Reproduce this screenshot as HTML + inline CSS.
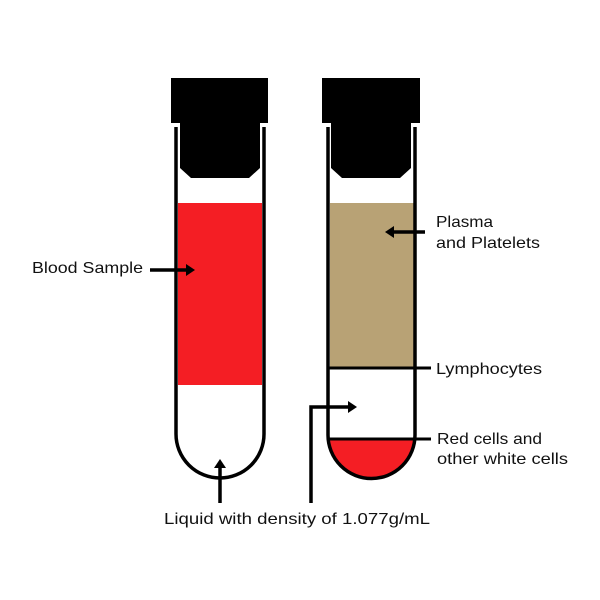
<!DOCTYPE html>
<html><head><style>body{margin:0;background:#fff}svg{display:block}</style></head><body>
<svg width="600" height="600" viewBox="0 0 600 600" xmlns="http://www.w3.org/2000/svg" font-family="Liberation Sans, sans-serif" font-size="16">
<rect width="600" height="600" fill="#fff"/>
<!-- left tube -->
<rect x="178" y="203" width="84" height="182" fill="#f41e24"/>
<path d="M176 127 V434 A44 44 0 0 0 264 434 V127" fill="none" stroke="#000" stroke-width="3.5"/>
<path d="M171 78 H268 V123 H260 V168 L249 178 H191 L180 168 V123 H171 Z" fill="#000"/>
<!-- right tube -->
<rect x="330" y="203" width="84" height="165" fill="#b8a275"/>
<path d="M330 439 H414 A42 40 0 0 1 330 439 Z" fill="#f41e24"/>
<path d="M328 127 V435 A43.5 43.5 0 0 0 415 435 V127" fill="none" stroke="#000" stroke-width="3.5"/>
<path d="M322 78 H420 V123 H411 V168 L400 178 H342 L331 168 V123 H322 Z" fill="#000"/>
<line x1="328" y1="368" x2="431" y2="368" stroke="#000" stroke-width="3"/>
<line x1="328" y1="439" x2="431" y2="439" stroke="#000" stroke-width="3"/>
<!-- arrows -->
<g stroke="#000" stroke-width="3.5" fill="none">
<line x1="150" y1="270" x2="188" y2="270"/>
<line x1="220" y1="503" x2="220" y2="466"/>
<path d="M311 503 V407 H350"/>
<line x1="425" y1="232" x2="392" y2="232"/>
</g>
<g fill="#000">
<path d="M195 270 L186 264 V276 Z"/>
<path d="M220 459 L214 468 H226 Z"/>
<path d="M357 407 L348 401 V413 Z"/>
<path d="M385 232 L394 226 V238 Z"/>
</g>
<g fill="#111">
<text x="32" y="273" textLength="111" lengthAdjust="spacingAndGlyphs">Blood Sample</text>
<text x="436" y="227" textLength="57" lengthAdjust="spacingAndGlyphs">Plasma</text>
<text x="436" y="248" textLength="104" lengthAdjust="spacingAndGlyphs">and Platelets</text>
<text x="436" y="374" textLength="106" lengthAdjust="spacingAndGlyphs">Lymphocytes</text>
<text x="437" y="444" textLength="105" lengthAdjust="spacingAndGlyphs">Red cells and</text>
<text x="437" y="464" textLength="131" lengthAdjust="spacingAndGlyphs">other white cells</text>
<text x="164" y="524" textLength="266" lengthAdjust="spacingAndGlyphs">Liquid with density of 1.077g/mL</text>
</g>
</svg>
</body></html>
